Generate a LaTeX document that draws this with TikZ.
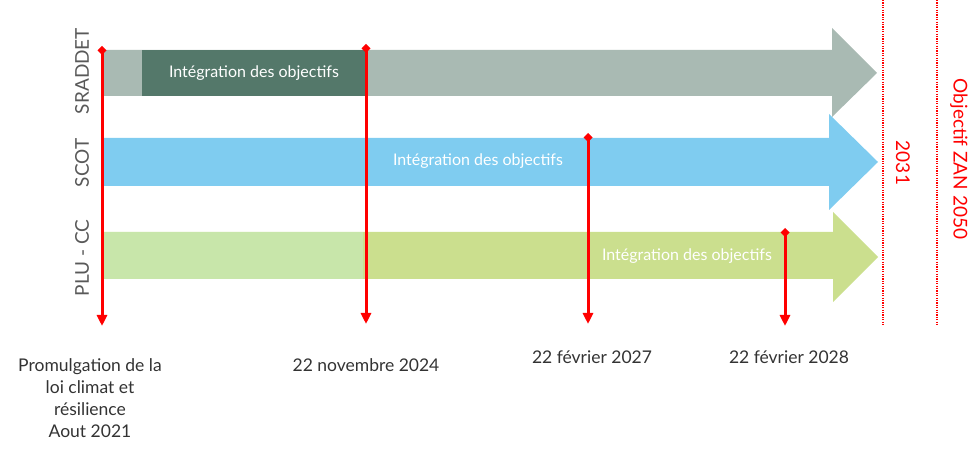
\documentclass[tikz,border=0pt]{standalone}
\usepackage{fontspec}
\setmainfont{Lato}
\usetikzlibrary{arrows.meta}
\definecolor{sradclair}{HTML}{A9BAB3}
\definecolor{sradfonce}{HTML}{54786A}
\definecolor{scotbleu}{HTML}{7FCCF0}
\definecolor{pluclair}{HTML}{C8E6AA}
\definecolor{plufonce}{HTML}{CBDF8E}
\definecolor{gristexte}{HTML}{595959}
\definecolor{rouge}{HTML}{FF0000}
\tikzset{
  jalon/.style={rouge,line width=3pt,{Diamond[length=9pt,width=9pt]}-{Triangle[length=11pt,width=10pt]}},
  limite/.style={rouge,line width=1.3pt,dash pattern=on 1.3pt off 1.1pt},
  integ/.style={white,font=\fontsize{16}{18}\selectfont},
  plan/.style={gristexte,rotate=90,font=\fontsize{19}{22}\selectfont},
  echeance/.style={rouge,rotate=-90,font=\fontsize{19}{22}\selectfont},
  date/.style={black!80,align=center,font=\fontsize{17.5}{22}\selectfont}
}

\begin{document}
\begin{tikzpicture}[x=1pt,y=-1pt]
		  \useasboundingbox (0,0) rectangle (978,454);
		  % fleches
		  \fill[sradclair] (101,50) -- (832,50) -- (832,28) -- (877,73) -- (832,117) -- (832,96) -- (101,96) -- cycle;
		  \fill[sradfonce] (142,50) rectangle (366,96);
		  \fill[scotbleu] (101,138) -- (829,138) -- (829,114) -- (878,162) -- (829,210) -- (829,186) -- (101,186) -- cycle;
		  \fill[plufonce] (103,232) -- (833,232) -- (833,212) -- (878,257) -- (833,302) -- (833,279) -- (103,279) -- cycle;
		  \fill[pluclair] (103,232) rectangle (363,279);
		  \node[integ] (i1) at (254,73) {Intégration des objectifs};
		  \node[integ] (i2) at (478,161) {Intégration des objectifs};
		  \node[integ] (i3) at (687,256) {Intégration des objectifs};
		  \node[plan] (p1) at (82,71) {SRADDET};
		  \node[plan] (p2) at (82,163) {SCOT};
		  \node[plan] (p3) at (82,258) {PLU - CC};
		  % limites
		  \coordinate (l1h) at (883,0);
		  \coordinate (l1b) at (883,326);
		  \coordinate (l2h) at (937,0);
		  \coordinate (l2b) at (937,326);
		  \draw[limite] (l1h) -- (l1b);
		  \draw[limite] (l2h) -- (l2b);
		  \node[echeance] (e1) at (903,163) {2031};
		  \node[echeance] (e2) at (959,159) {Objectif ZAN 2050};
		  % jalons
		  \coordinate (j1h) at (102,46);
		  \coordinate (j1b) at (102,326);
		  \coordinate (j2h) at (366,44);
		  \coordinate (j2b) at (366,324);
		  \coordinate (j3h) at (588,133);
		  \coordinate (j3b) at (588,324);
		  \coordinate (j4h) at (785,228);
		  \coordinate (j4b) at (785,326);
		  \draw[jalon] (j1h) -- (j1b);
		  \draw[jalon] (j2h) -- (j2b);
		  \draw[jalon] (j3h) -- (j3b);
		  \draw[jalon] (j4h) -- (j4b);
		  \node[date] (d1) at (90,398) {Promulgation de la\\loi climat et\\résilience\\Aout 2021};
		  \node[date] (d2) at (366,365) {22 novembre 2024};
		  \node[date] (d3) at (592,357) {22 février 2027};
		  \node[date] (d4) at (789,357) {22 février 2028};
		\end{tikzpicture}
\end{document}
